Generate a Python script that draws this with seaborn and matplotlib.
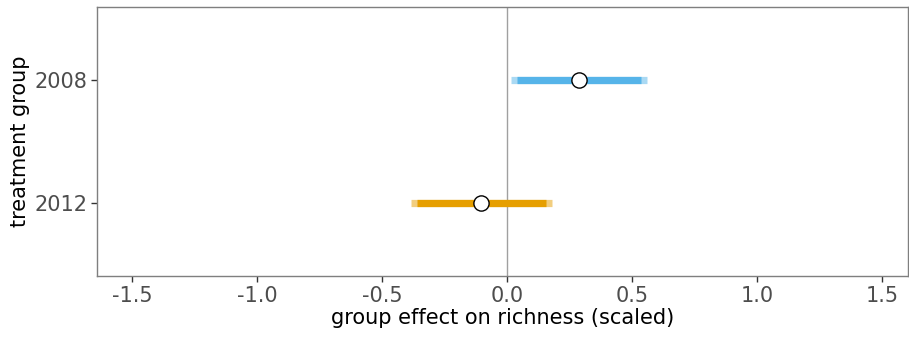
import matplotlib
matplotlib.use("Agg")
import matplotlib.pyplot as plt
import seaborn as sns
import pandas as pd
import numpy as np

groups = ["2008", "2012"]
estimate = [0.288, -0.104]
inner_lo = [0.04, -0.36]
inner_hi = [0.536, 0.156]
outer_lo = [0.016, -0.384]
outer_hi = [0.56, 0.18]
colors = ["#56B4E9", "#E69F00"]
xticks = [-1.5, -1.0, -0.5, 0.0, 0.5, 1.0, 1.5]

sns.set_theme(style="white")
plt.rcParams['font.family'] = ['DejaVu Sans']

df = pd.DataFrame({"group": groups, "estimate": estimate})
df["pos"] = np.arange(len(groups))

fig = plt.figure(figsize=(9.09, 3.38), dpi=100)
ax = fig.add_axes([97/909, 1 - 276/338, (908-97)/909, (276-7)/338])

ax.axvline(0, color="#A0A0A0", lw=1.0, zorder=1)
for i in range(len(groups)):
    ax.hlines(df["pos"][i], outer_lo[i], outer_hi[i], color=colors[i], alpha=0.5, lw=5.2, zorder=2)
    ax.hlines(df["pos"][i], inner_lo[i], inner_hi[i], color=colors[i], lw=5.2, zorder=3)

sns.scatterplot(data=df, x="estimate", y="pos", ax=ax, color="white", edgecolor="black",
                s=120, linewidth=1.0, zorder=4, legend=False)

ax.set_xlim(-1.64, 1.604)
ax.set_ylim(1.59, -0.59)
ax.set_yticks(df["pos"])
ax.set_yticklabels(groups)
ax.set_xticks(xticks)
ax.set_xticklabels([f"{v:.1f}" for v in xticks])
ax.set_xlabel("group effect on richness (scaled)", fontsize=15, color="black", labelpad=2)
ax.set_ylabel("treatment group", fontsize=15, color="black", labelpad=3)
ax.tick_params(axis="both", labelsize=15, labelcolor="#4D4D4D", color="#333333",
               length=4, width=1, direction="out", left=True, bottom=True, pad=3)
for sp in ax.spines.values():
    sp.set_color("#7F7F7F")
    sp.set_linewidth(1.0)

fig.savefig("out.png", dpi=100)
